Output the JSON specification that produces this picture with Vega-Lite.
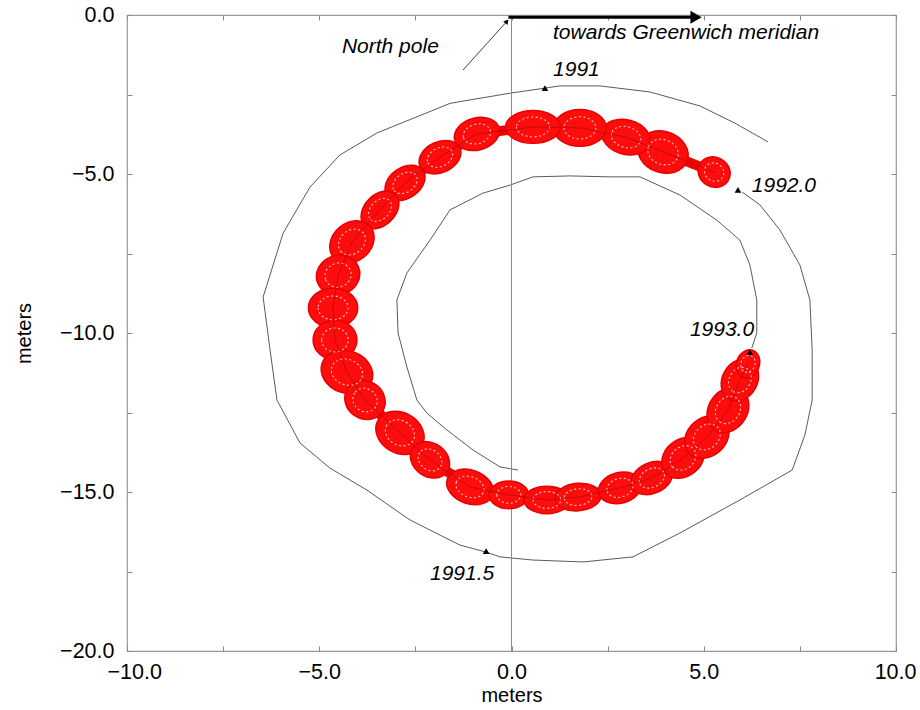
{
  "$schema": "https://vega.github.io/schema/vega-lite/v6.json",
  "autosize": {"type": "none"},
  "padding": {"left": 127, "top": 15, "right": 24, "bottom": 59},
  "width": 769,
  "height": 636,
  "background": "white",
  "config": {
    "view": {"stroke": "#9a9a9a", "strokeWidth": 1.2},
    "font": "Liberation Sans",
    "axis": {
      "grid": false,
      "domain": false,
      "tickColor": "#8a8a8a",
      "tickSize": -5,
      "labelFont": "Liberation Sans",
      "labelFontSize": 21.5,
      "labelColor": "#000",
      "titleFont": "Liberation Sans",
      "titleFontSize": 20,
      "titleFontWeight": "normal",
      "titleColor": "#000",
      "labelFlush": false,
      "labelOverlap": false
    }
  },
  "datasets": {
    "outer": [
      {"i": 1, "x": 6.67, "y": -3.99}, {"i": 2, "x": 5.81, "y": -3.4}, {"i": 3, "x": 4.9, "y": -2.86},
      {"i": 4, "x": 3.6, "y": -2.42}, {"i": 5, "x": 2.3, "y": -2.23}, {"i": 6, "x": 1.26, "y": -2.23},
      {"i": 7, "x": 0.87, "y": -2.3}, {"i": 8, "x": 0.01, "y": -2.45}, {"i": 9, "x": -1.08, "y": -2.67},
      {"i": 10, "x": -1.6, "y": -2.78}, {"i": 11, "x": -3.5, "y": -3.71}, {"i": 12, "x": -4.46, "y": -4.4},
      {"i": 13, "x": -5.24, "y": -5.41}, {"i": 14, "x": -5.94, "y": -6.86}, {"i": 15, "x": -6.46, "y": -8.87},
      {"i": 16, "x": -6.28, "y": -10.53}, {"i": 17, "x": -6.1, "y": -12.11}, {"i": 18, "x": -5.5, "y": -13.46},
      {"i": 19, "x": -4.72, "y": -14.25}, {"i": 20, "x": -3.76, "y": -14.94}, {"i": 21, "x": -2.64, "y": -15.88},
      {"i": 22, "x": -1.34, "y": -16.67}, {"i": 23, "x": -0.66, "y": -16.89}, {"i": 24, "x": -0.3, "y": -17.04},
      {"i": 25, "x": 0.56, "y": -17.14}, {"i": 26, "x": 1.86, "y": -17.2}, {"i": 27, "x": 3.16, "y": -17.04},
      {"i": 28, "x": 4.38, "y": -16.29}, {"i": 29, "x": 5.94, "y": -15.25}, {"i": 30, "x": 7.3, "y": -14.31},
      {"i": 31, "x": 7.63, "y": -13.21}, {"i": 32, "x": 7.82, "y": -12.11}, {"i": 33, "x": 7.82, "y": -10.53},
      {"i": 34, "x": 7.76, "y": -8.96}, {"i": 35, "x": 7.5, "y": -7.86}, {"i": 36, "x": 6.98, "y": -6.76},
      {"i": 37, "x": 6.46, "y": -5.97}, {"i": 38, "x": 6.0, "y": -5.57}
    ],
    "inner": [
      {"i": 1, "x": 0.17, "y": -14.31}, {"i": 2, "x": -0.3, "y": -14.21}, {"i": 3, "x": -1.0, "y": -13.68},
      {"i": 4, "x": -1.68, "y": -13.05}, {"i": 5, "x": -2.2, "y": -12.52}, {"i": 6, "x": -2.46, "y": -12.11},
      {"i": 7, "x": -2.72, "y": -11.07}, {"i": 8, "x": -2.95, "y": -10.0}, {"i": 9, "x": -2.98, "y": -8.96},
      {"i": 10, "x": -2.72, "y": -8.11}, {"i": 11, "x": -2.12, "y": -7.08}, {"i": 12, "x": -1.6, "y": -6.13},
      {"i": 13, "x": -0.74, "y": -5.6}, {"i": 14, "x": -0.04, "y": -5.35}, {"i": 15, "x": 0.56, "y": -5.09},
      {"i": 16, "x": 1.52, "y": -5.06}, {"i": 17, "x": 2.56, "y": -5.09}, {"i": 18, "x": 3.34, "y": -5.09},
      {"i": 19, "x": 4.38, "y": -5.66}, {"i": 20, "x": 5.34, "y": -6.45}, {"i": 21, "x": 5.94, "y": -7.08},
      {"i": 22, "x": 6.2, "y": -7.86}, {"i": 23, "x": 6.38, "y": -8.96}, {"i": 24, "x": 6.38, "y": -10.0},
      {"i": 25, "x": 6.25, "y": -10.47}
    ],
    "beads": [
      {"n": 1, "x": 5.27, "y": -4.94, "len": 0.78, "ratio": 0.9, "angle": 30},
      {"n": 2, "x": 3.94, "y": -4.31, "len": 1.22, "ratio": 0.8, "angle": 20},
      {"n": 3, "x": 2.98, "y": -3.84, "len": 1.17, "ratio": 0.7, "angle": 15},
      {"n": 4, "x": 1.78, "y": -3.55, "len": 1.25, "ratio": 0.7, "angle": 0},
      {"n": 5, "x": 0.56, "y": -3.52, "len": 1.3, "ratio": 0.6, "angle": 0},
      {"n": 6, "x": -0.9, "y": -3.74, "len": 1.09, "ratio": 0.7, "angle": -15},
      {"n": 7, "x": -1.86, "y": -4.47, "len": 1.04, "ratio": 0.7, "angle": -25},
      {"n": 8, "x": -2.77, "y": -5.28, "len": 1.04, "ratio": 0.7, "angle": -35},
      {"n": 9, "x": -3.42, "y": -6.13, "len": 1.04, "ratio": 0.7, "angle": -45},
      {"n": 10, "x": -4.15, "y": -7.14, "len": 1.14, "ratio": 0.8, "angle": -40},
      {"n": 11, "x": -4.51, "y": -8.18, "len": 1.04, "ratio": 0.9, "angle": -20},
      {"n": 12, "x": -4.64, "y": -9.21, "len": 1.17, "ratio": 0.8, "angle": 0},
      {"n": 13, "x": -4.59, "y": -10.22, "len": 1.04, "ratio": 0.9, "angle": 0},
      {"n": 14, "x": -4.28, "y": -11.23, "len": 1.25, "ratio": 0.8, "angle": 20},
      {"n": 15, "x": -3.81, "y": -12.11, "len": 0.99, "ratio": 0.9, "angle": 35},
      {"n": 16, "x": -2.9, "y": -13.14, "len": 1.2, "ratio": 0.8, "angle": 30},
      {"n": 17, "x": -2.12, "y": -13.99, "len": 0.99, "ratio": 0.8, "angle": 35},
      {"n": 18, "x": -1.08, "y": -14.84, "len": 1.14, "ratio": 0.7, "angle": 20},
      {"n": 19, "x": -0.07, "y": -15.09, "len": 0.94, "ratio": 0.7, "angle": 0},
      {"n": 20, "x": 0.92, "y": -15.25, "len": 1.09, "ratio": 0.6, "angle": 0},
      {"n": 21, "x": 1.73, "y": -15.16, "len": 1.09, "ratio": 0.6, "angle": -5},
      {"n": 22, "x": 2.82, "y": -14.87, "len": 1.04, "ratio": 0.7, "angle": -15},
      {"n": 23, "x": 3.65, "y": -14.56, "len": 1.04, "ratio": 0.7, "angle": -25},
      {"n": 24, "x": 4.46, "y": -13.93, "len": 1.09, "ratio": 0.8, "angle": -40},
      {"n": 25, "x": 5.08, "y": -13.27, "len": 1.14, "ratio": 0.8, "angle": -40},
      {"n": 26, "x": 5.63, "y": -12.42, "len": 1.14, "ratio": 0.8, "angle": -55},
      {"n": 27, "x": 5.94, "y": -11.48, "len": 1.04, "ratio": 0.8, "angle": -60},
      {"n": 28, "x": 6.15, "y": -10.97, "len": 0.68, "ratio": 0.8, "angle": -70}
    ],
    "pointer": [
      {"i": 1, "x": -1.26, "y": -1.73},
      {"i": 2, "x": -0.12, "y": -0.2}
    ],
    "epochs": [
      {"x": 0.87, "y": -2.3},
      {"x": 5.89, "y": -5.5},
      {"x": 6.2, "y": -10.6},
      {"x": -0.66, "y": -16.86}
    ],
    "notes": [
      {"label": "towards Greenwich meridian", "x": 1.08, "y": -0.57},
      {"label": "North pole", "x": -4.41, "y": -1.0},
      {"label": "1991", "x": 1.08, "y": -1.73},
      {"label": "1992.0", "x": 6.25, "y": -5.38},
      {"label": "1993.0", "x": 4.64, "y": -9.91},
      {"label": "1991.5", "x": -2.12, "y": -17.58}
    ]
  },
  "resolve": {
    "axis": {"x": "independent", "y": "independent"},
    "scale": {"size": "independent"}
  },
  "layer": [
    {
      "data": {"name": "outer"},
      "mark": {"type": "line", "color": "#5a5a5a", "strokeWidth": 1},
      "encoding": {
        "x": {
          "field": "x", "type": "quantitative",
          "scale": {"domain": [-10, 10], "nice": false, "zero": false},
          "axis": {
            "orient": "bottom",
            "values": [-10, -7.5, -5, -2.5, 0, 2.5, 5, 7.5, 10],
            "labelExpr": "datum.value % 5 === 0 ? format(datum.value, '.1f') : ''",
            "labelPadding": 15,
            "labelFlush": true,
            "labelFlushOffset": 20,
            "title": "meters",
            "titlePadding": 3
          }
        },
        "y": {
          "field": "y", "type": "quantitative",
          "scale": {"domain": [-20, 0], "nice": false, "zero": false},
          "axis": {
            "orient": "left",
            "values": [-20, -17.5, -15, -12.5, -10, -7.5, -5, -2.5, 0],
            "labelExpr": "datum.value % 5 === 0 ? format(datum.value, '.1f') : ''",
            "labelPadding": 18,
            "title": "meters",
            "titlePadding": 25
          }
        },
        "order": {"field": "i"}
      }
    },
    {
      "data": {"name": "inner"},
      "mark": {"type": "line", "color": "#5a5a5a", "strokeWidth": 1},
      "encoding": {
        "x": {
          "field": "x", "type": "quantitative",
          "scale": {"domain": [-10, 10], "nice": false, "zero": false},
          "axis": {"orient": "top", "values": [-10, -7.5, -5, -2.5, 0, 2.5, 5, 7.5, 10], "labels": false, "title": null}
        },
        "y": {
          "field": "y", "type": "quantitative",
          "scale": {"domain": [-20, 0], "nice": false, "zero": false},
          "axis": {"orient": "right", "values": [-20, -17.5, -15, -12.5, -10, -7.5, -5, -2.5, 0], "labels": false, "title": null}
        },
        "order": {"field": "i"}
      }
    },
    {
      "data": {"values": [{"x": 0}]},
      "mark": {"type": "rule", "color": "#8c8c8c", "strokeWidth": 1},
      "encoding": {
        "x": {"field": "x", "type": "quantitative", "scale": {"domain": [-10, 10], "nice": false, "zero": false}, "axis": null}
      }
    },
    {
      "data": {"name": "beads"},
      "mark": {"type": "line", "color": "#f20000", "strokeWidth": 10, "strokeCap": "round", "strokeJoin": "round"},
      "encoding": {
        "x": {"field": "x", "type": "quantitative", "scale": {"domain": [-10, 10], "nice": false, "zero": false}, "axis": null},
        "y": {"field": "y", "type": "quantitative", "scale": {"domain": [-20, 0], "nice": false, "zero": false}, "axis": null},
        "order": {"field": "n"}
      }
    },
    {
      "data": {"name": "beads"},
      "mark": {"type": "point", "filled": true, "fill": "#ff0d0d", "fillOpacity": 1, "stroke": "#e60000", "strokeWidth": 1.5},
      "encoding": {
        "x": {"field": "x", "type": "quantitative", "scale": {"domain": [-10, 10], "nice": false, "zero": false}, "axis": null},
        "y": {"field": "y", "type": "quantitative", "scale": {"domain": [-20, 0], "nice": false, "zero": false}, "axis": null},
        "size": {"field": "len", "type": "quantitative", "scale": {"type": "pow", "exponent": 2, "domain": [0, 1.3], "range": [0, 3000]}, "legend": null},
        "shape": {
          "field": "ratio", "type": "nominal",
          "scale": {
            "domain": [0.6, 0.7, 0.8, 0.9],
            "range": [
              "M-1,0A1,0.6,0,1,0,1,0A1,0.6,0,1,0,-1,0Z",
              "M-1,0A1,0.7,0,1,0,1,0A1,0.7,0,1,0,-1,0Z",
              "M-1,0A1,0.8,0,1,0,1,0A1,0.8,0,1,0,-1,0Z",
              "M-1,0A1,0.9,0,1,0,1,0A1,0.9,0,1,0,-1,0Z"
            ]
          },
          "legend": null
        },
        "angle": {"field": "angle", "type": "quantitative", "scale": null}
      }
    },
    {
      "data": {"name": "beads"},
      "mark": {"type": "point", "filled": false, "stroke": "#ffd6d6", "strokeWidth": 1.1, "strokeDash": [2, 2.5], "opacity": 0.9},
      "encoding": {
        "x": {"field": "x", "type": "quantitative", "scale": {"domain": [-10, 10], "nice": false, "zero": false}, "axis": null},
        "y": {"field": "y", "type": "quantitative", "scale": {"domain": [-20, 0], "nice": false, "zero": false}, "axis": null},
        "size": {"field": "len", "type": "quantitative", "scale": {"type": "pow", "exponent": 2, "domain": [0, 1.3], "range": [0, 1100]}, "legend": null},
        "shape": {
          "field": "ratio", "type": "nominal",
          "scale": {
            "domain": [0.6, 0.7, 0.8, 0.9],
            "range": [
              "M-1,0A1,0.6,0,1,0,1,0A1,0.6,0,1,0,-1,0Z",
              "M-1,0A1,0.7,0,1,0,1,0A1,0.7,0,1,0,-1,0Z",
              "M-1,0A1,0.8,0,1,0,1,0A1,0.8,0,1,0,-1,0Z",
              "M-1,0A1,0.9,0,1,0,1,0A1,0.9,0,1,0,-1,0Z"
            ]
          },
          "legend": null
        },
        "angle": {"field": "angle", "type": "quantitative", "scale": null}
      }
    },
    {
      "data": {"name": "beads"},
      "mark": {"type": "line", "color": "#7a0000", "strokeWidth": 0.7, "opacity": 0.6},
      "encoding": {
        "x": {"field": "x", "type": "quantitative", "scale": {"domain": [-10, 10], "nice": false, "zero": false}, "axis": null},
        "y": {"field": "y", "type": "quantitative", "scale": {"domain": [-20, 0], "nice": false, "zero": false}, "axis": null},
        "order": {"field": "n"}
      }
    },
    {
      "data": {"values": [{"x": -0.08, "x2": 4.75, "y": -0.07}]},
      "mark": {"type": "rule", "color": "#000", "strokeWidth": 3},
      "encoding": {
        "x": {"field": "x", "type": "quantitative", "scale": {"domain": [-10, 10], "nice": false, "zero": false}, "axis": null},
        "x2": {"field": "x2"},
        "y": {"field": "y", "type": "quantitative", "scale": {"domain": [-20, 0], "nice": false, "zero": false}, "axis": null}
      }
    },
    {
      "data": {"values": [{"x": 4.8, "y": -0.07}]},
      "mark": {"type": "point", "shape": "triangle-right", "filled": true, "color": "#000", "size": 170, "opacity": 1},
      "encoding": {
        "x": {"field": "x", "type": "quantitative", "scale": {"domain": [-10, 10], "nice": false, "zero": false}, "axis": null},
        "y": {"field": "y", "type": "quantitative", "scale": {"domain": [-20, 0], "nice": false, "zero": false}, "axis": null}
      }
    },
    {
      "data": {"name": "pointer"},
      "mark": {"type": "line", "color": "#444", "strokeWidth": 1},
      "encoding": {
        "x": {"field": "x", "type": "quantitative", "scale": {"domain": [-10, 10], "nice": false, "zero": false}, "axis": null},
        "y": {"field": "y", "type": "quantitative", "scale": {"domain": [-20, 0], "nice": false, "zero": false}, "axis": null},
        "order": {"field": "i"}
      }
    },
    {
      "data": {"values": [{"x": -0.12, "y": -0.2, "angle": 40}]},
      "mark": {"type": "point", "shape": "triangle-up", "filled": true, "color": "#000", "size": 30, "opacity": 1},
      "encoding": {
        "x": {"field": "x", "type": "quantitative", "scale": {"domain": [-10, 10], "nice": false, "zero": false}, "axis": null},
        "y": {"field": "y", "type": "quantitative", "scale": {"domain": [-20, 0], "nice": false, "zero": false}, "axis": null},
        "angle": {"field": "angle", "type": "quantitative", "scale": null}
      }
    },
    {
      "data": {"name": "epochs"},
      "mark": {"type": "point", "shape": "triangle-up", "filled": true, "color": "#000", "size": 45, "opacity": 1},
      "encoding": {
        "x": {"field": "x", "type": "quantitative", "scale": {"domain": [-10, 10], "nice": false, "zero": false}, "axis": null},
        "y": {"field": "y", "type": "quantitative", "scale": {"domain": [-20, 0], "nice": false, "zero": false}, "axis": null}
      }
    },
    {
      "data": {"name": "notes"},
      "mark": {"type": "text", "align": "left", "baseline": "middle", "font": "Liberation Sans", "fontSize": 21, "fontStyle": "italic", "color": "#000"},
      "encoding": {
        "x": {"field": "x", "type": "quantitative", "scale": {"domain": [-10, 10], "nice": false, "zero": false}, "axis": null},
        "y": {"field": "y", "type": "quantitative", "scale": {"domain": [-20, 0], "nice": false, "zero": false}, "axis": null},
        "text": {"field": "label"}
      }
    }
  ]
}
